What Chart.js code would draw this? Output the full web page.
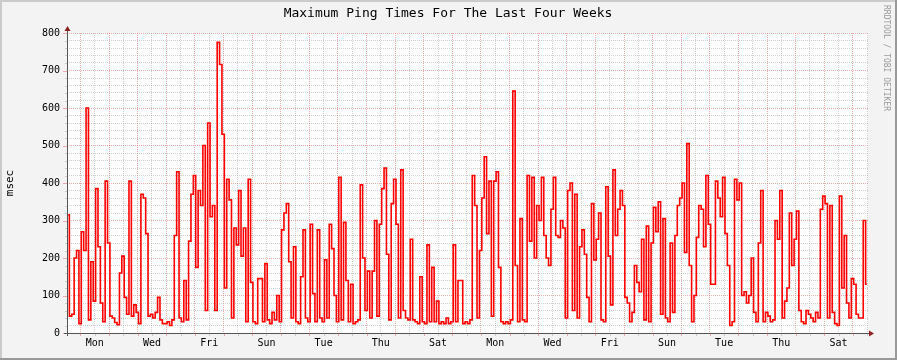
<!DOCTYPE html>
<html lang="en">
<head>
<meta charset="UTF-8">
<title>Maximum Ping Times</title>
<style>
body { margin: 0; background: #f3f3f3; }
#wrap { width: 897px; height: 360px; }
</style>
</head>
<body>
<div id="wrap"><canvas id="ping" width="897" height="360"></canvas></div>
<script src="https://cdn.jsdelivr.net/npm/chart.js@4.4.0/dist/chart.umd.min.js"></script>
<script>
const chartTitle = 'Maximum Ping Times For The Last Four Weeks'
const yTitle = 'msec'
const watermark = 'RRDTOOL / TOBI OETIKER'
const dayNames = ['Mon', 'Tue', 'Wed', 'Thu', 'Fri', 'Sat', 'Sun']
const firstMidnight = 11.3   // hours from the left edge to the first midnight
const stepHours = 2
const totalHours = 672
const yMax = 800

// max ping (msec), one value per 2 hours, 12 per day
const maxPing = [
  315, 45, 50, 200, 220, 25, 270, 220, 600, 35, 190, 85,
  385, 230, 80, 30, 405, 240, 45, 40, 28, 22, 160, 205,
  95, 50, 405, 45, 75, 55, 25, 370, 360, 265, 45, 50,
  40, 55, 95, 35, 25, 25, 30, 20, 35, 260, 430, 40,
  30, 140, 35, 245, 370, 420, 175, 380, 340, 500, 60, 560,
  310, 340, 60, 775, 716, 530, 120, 410, 355, 40, 280, 235,
  380, 205, 280, 30, 410, 135, 30, 25, 145, 145, 30, 185,
  35, 25, 55, 35, 100, 30, 275, 320, 345, 190, 40, 230,
  30, 25, 150, 275, 40, 30, 290, 105, 30, 275, 40, 30,
  195, 40, 290, 225, 100, 30, 415, 35, 295, 140, 30, 130,
  25, 30, 35, 395, 200, 60, 165, 40, 165, 300, 45, 290,
  385, 440, 210, 35, 345, 410, 290, 40, 435, 60, 40, 35,
  250, 35, 30, 25, 150, 30, 25, 235, 30, 175, 30, 85,
  25, 30, 25, 40, 25, 30, 235, 30, 140, 140, 25, 30,
  25, 35, 420, 340, 40, 220, 360, 470, 265, 405, 45, 405,
  430, 175, 30, 25, 30, 25, 35, 645, 180, 30, 305, 35,
  30, 420, 245, 415, 200, 340, 300, 415, 260, 200, 180, 330,
  415, 260, 255, 300, 280, 40, 380, 400, 60, 370, 40, 230,
  275, 210, 95, 30, 345, 195, 250, 320, 35, 30, 390, 205,
  75, 435, 260, 330, 380, 340, 95, 80, 30, 55, 180, 135,
  110, 250, 35, 285, 30, 240, 335, 270, 350, 50, 305, 40,
  30, 240, 55, 260, 340, 360, 400, 215, 505, 180, 30, 100,
  255, 340, 330, 230, 420, 290, 130, 130, 405, 360, 310, 415,
  265, 180, 20, 30, 410, 355, 400, 100, 110, 80, 100, 200,
  55, 30, 240, 380, 30, 55, 45, 30, 35, 300, 250, 380,
  40, 85, 120, 320, 180, 250, 325, 60, 30, 25, 60, 50,
  40, 30, 55, 40, 330, 365, 345, 40, 340, 55, 25, 20,
  365, 120, 260, 80, 40, 145, 130, 50, 40, 40, 300, 130
]

const majorGrid = 'rgba(230,120,120,0.6)'
const minorGrid = 'rgba(170,170,170,0.55)'
const monoFont = 'DejaVu Sans Mono'

Chart.defaults.font.family = monoFont

function tickIndex(v) {
  return Math.round((v - firstMidnight) / 12)
}

const rrdFrame = {
  id: 'rrdFrame',
  beforeDraw(chart) {
    const c = chart.ctx, a = chart.chartArea
    c.save()
    c.fillStyle = '#f3f3f3'
    c.fillRect(0, 0, chart.width, chart.height)
    c.fillStyle = '#ffffff'
    c.fillRect(a.left, a.top, a.right - a.left, a.bottom - a.top)
    c.restore()
  },
  afterDraw(chart) {
    const c = chart.ctx, a = chart.chartArea
    const xs = chart.scales.x, ys = chart.scales.y
    c.save()

    // small ticks outside the axes
    c.lineWidth = 1
    xs.ticks.forEach(t => {
      const px = Math.round(xs.getPixelForValue(t.value)) + 0.5
      c.strokeStyle = tickIndex(t.value) % 2 === 0 ? majorGrid : minorGrid
      c.beginPath(); c.moveTo(px, a.bottom); c.lineTo(px, a.bottom + 3); c.stroke()
    })
    ys.ticks.forEach(t => {
      const py = Math.round(ys.getPixelForValue(t.value)) + 0.5
      const major = t.value % 100 === 0
      c.strokeStyle = major ? majorGrid : minorGrid
      c.beginPath(); c.moveTo(a.left - (major ? 4 : 2), py); c.lineTo(a.left, py); c.stroke()
    })

    // axes
    c.strokeStyle = '#555'
    c.beginPath()
    c.moveTo(a.left + 0.5, a.bottom + 3); c.lineTo(a.left + 0.5, a.top - 4)
    c.moveTo(a.left - 3, a.bottom + 0.5); c.lineTo(a.right + 2, a.bottom + 0.5)
    c.stroke()
    c.fillStyle = '#8a1f1f'
    c.beginPath()
    c.moveTo(a.left - 2.5, a.top - 2); c.lineTo(a.left + 3.5, a.top - 2); c.lineTo(a.left + 0.5, a.top - 7)
    c.closePath(); c.fill()
    c.beginPath()
    c.moveTo(a.right + 1, a.bottom - 2.5); c.lineTo(a.right + 1, a.bottom + 3.5); c.lineTo(a.right + 6, a.bottom + 0.5)
    c.closePath(); c.fill()

    // texts
    c.fillStyle = '#000'
    c.textAlign = 'center'
    c.textBaseline = 'middle'
    c.font = '13px ' + monoFont
    c.fillText(chartTitle, 448, 14)
    c.save()
    c.translate(10, 183)
    c.rotate(-Math.PI / 2)
    c.font = '11px ' + monoFont
    c.fillText(yTitle, 0, 0)
    c.restore()
    c.save()
    c.translate(886, 5)
    c.rotate(Math.PI / 2)
    c.textAlign = 'left'
    c.fillStyle = '#9a9a9a'
    c.font = '8px ' + monoFont
    c.fillText(watermark, 0, 0)
    c.restore()

    // shaded frame
    c.fillStyle = '#cbcbcb'
    c.fillRect(0, 0, chart.width, 2)
    c.fillRect(0, 0, 2, chart.height)
    c.fillStyle = '#999999'
    c.fillRect(0, chart.height - 2, chart.width, 2)
    c.fillRect(chart.width - 2, 0, 2, chart.height)
    c.restore()
  }
}

new Chart(document.getElementById('ping'), {
  type: 'line',
  data: {
    datasets: [{
      data: maxPing.map((v, i) => ({ x: i * stepHours + stepHours / 2, y: v })),
      borderColor: '#ff0000',
      borderWidth: 1.6,
      pointRadius: 0,
      stepped: 'middle',
      fill: false
    }]
  },
  options: {
    responsive: false,
    animation: false,
    devicePixelRatio: 1,
    layout: { padding: { left: 0, top: 33, right: 29, bottom: 0 } },
    plugins: { legend: { display: false }, tooltip: { enabled: false } },
    scales: {
      x: {
        type: 'linear',
        min: 0,
        max: totalHours,
        afterBuildTicks: s => {
          const t = []
          for (let h = firstMidnight; h < totalHours; h += 12) t.push({ value: h })
          s.ticks = t
        },
        afterFit: s => { s.height = 27 },
        grid: {
          drawTicks: false,
          color: c => tickIndex(c.tick.value) % 2 === 0 ? majorGrid : minorGrid
        },
        border: { display: false, dash: [1, 1] },
        ticks: {
          autoSkip: false,
          maxRotation: 0,
          padding: 4,
          color: '#000',
          font: { size: 10 },
          callback: v => {
            const k = tickIndex(v)
            if (k % 2 === 0) return ''
            const d = (k - 1) / 2
            return d % 2 === 0 ? dayNames[d % 7] : ''
          }
        }
      },
      y: {
        min: 0,
        max: yMax,
        afterFit: s => { s.width = 67 },
        grid: {
          drawTicks: false,
          color: c => c.tick.value % 100 === 0 ? majorGrid : minorGrid
        },
        border: { display: false, dash: [1, 1] },
        ticks: {
          autoSkip: false,
          stepSize: 20,
          padding: 7,
          color: '#000',
          font: { size: 10 },
          callback: v => v % 100 === 0 ? v : ''
        }
      }
    }
  },
  plugins: [rrdFrame]
})
</script>
</body>
</html>
